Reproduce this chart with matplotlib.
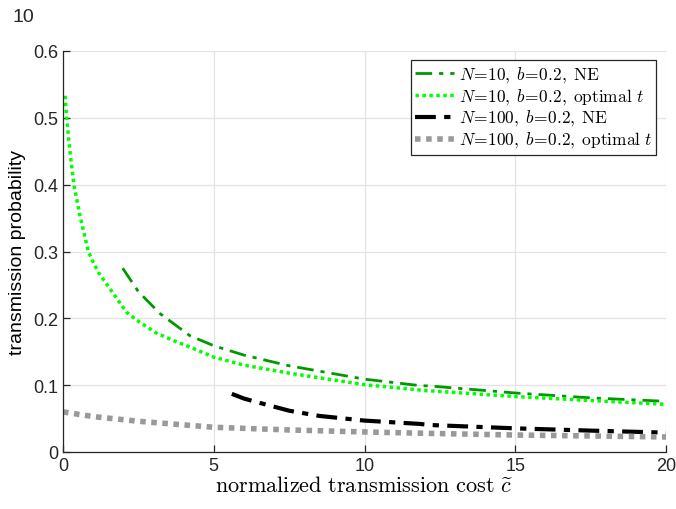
import matplotlib
matplotlib.use("Agg")
import matplotlib.pyplot as plt

plt.rcParams["mathtext.fontset"] = "cm"
plt.rcParams["font.family"] = ["Liberation Sans", "DejaVu Sans"]

# values
ne10_x = [1.98, 2.5, 3.22, 3.82, 4.21, 5.0, 6.0, 7.5, 10.0, 11.84, 12.17, 15.0, 17.5, 20.0]
ne10_y = [0.275, 0.24, 0.207, 0.187, 0.174, 0.159, 0.145, 0.129, 0.109, 0.0993, 0.0988, 0.0883, 0.081, 0.0758]

opt10_x = [0.07, 0.12, 0.23, 0.36, 0.56, 0.84, 1.0, 1.17, 1.56, 2.11, 2.55, 3.1, 3.65, 4.21, 5.0, 6.0,
           7.5, 10.0, 12.0, 15.0, 17.5, 20.0]
opt10_y = [0.533, 0.5, 0.45, 0.4, 0.354, 0.3, 0.284, 0.269, 0.244, 0.209, 0.194, 0.178, 0.167, 0.157,
           0.142, 0.13, 0.118, 0.1007, 0.092, 0.083, 0.077, 0.0713]

ne100_x = [5.6, 6.0, 6.4, 7.5, 8.5, 10.0, 11.84, 12.17, 15.0, 17.5, 20.0]
ne100_y = [0.087, 0.08, 0.075, 0.0618, 0.054, 0.047, 0.042, 0.0404, 0.0354, 0.032, 0.029]

opt100_x = [0.0, 1.0, 2.5, 3.88, 5.0, 7.5, 10.0, 12.0, 15.0, 17.5, 20.0]
opt100_y = [0.06, 0.053, 0.046, 0.041, 0.037, 0.033, 0.030, 0.028, 0.0254, 0.024, 0.0225]

labels = [
    r"$N\!=\!10,\;b\!=\!0.2,\;\mathrm{NE}$",
    r"$N\!=\!10,\;b\!=\!0.2,\;\mathrm{optimal}\ t$",
    r"$N\!=\!100,\;b\!=\!0.2,\;\mathrm{NE}$",
    r"$N\!=\!100,\;b\!=\!0.2,\;\mathrm{optimal}\ t$",
]

fig = plt.figure(figsize=(6.76, 5.10), dpi=100)
ax = fig.add_axes([63 / 676, 57 / 510, 603 / 676, 401 / 510])

ax.plot(ne10_x, ne10_y, color=(0, 0.6, 0), lw=2, linestyle=(0, (6, 2.5, 1.5, 2.5)), label=labels[0])
ax.plot(opt10_x, opt10_y, color=(0, 1, 0), lw=2.5, linestyle=(0, (1, 1)), label=labels[1])
ax.plot(ne100_x, ne100_y, color="black", lw=3, linestyle=(0, (5, 2, 1.5, 2)), label=labels[2])
ax.plot(opt100_x, opt100_y, color=(0.6, 0.6, 0.6), lw=4, linestyle=(0, (1, 1)), label=labels[3])

ax.set_xlim(0, 20)
ax.set_ylim(0, 0.6)
ax.set_xticks([0, 5, 10, 15, 20])
ax.set_yticks([0, 0.1, 0.2, 0.3, 0.4, 0.5, 0.6])
ax.set_yticklabels(["0", "0.1", "0.2", "0.3", "0.4", "0.5", "0.6"])
ax.grid(True, color="#e3e3e3", lw=0.9)
ax.set_axisbelow(True)
ax.tick_params(direction="in", length=5, labelsize=13, colors="#262626", width=0.9)
for s in ["top", "right"]:
    ax.spines[s].set_visible(False)
for s in ["left", "bottom"]:
    ax.spines[s].set_color("#262626")
    ax.spines[s].set_linewidth(0.9)

ax.set_xlabel(r"$\mathrm{normalized\ transmission\ cost}\ \widetilde{c}$", fontsize=16, labelpad=1)
ax.set_ylabel("transmission probability", fontsize=14, labelpad=5)

leg = ax.legend(loc="upper right", bbox_to_anchor=(0.99, 0.985), fontsize=12.5,
                frameon=True, fancybox=False, handlelength=2.2, handletextpad=0.3,
                borderpad=0.25, labelspacing=0.1, borderaxespad=0.2)
leg.get_frame().set_edgecolor("#262626")
leg.get_frame().set_linewidth(0.9)
leg.get_frame().set_alpha(1)

fig.text(13 / 676, 1 - 17 / 510, "10", fontsize=14, va="center", ha="left", color="#262626")

fig.savefig("out.png", dpi=100)
